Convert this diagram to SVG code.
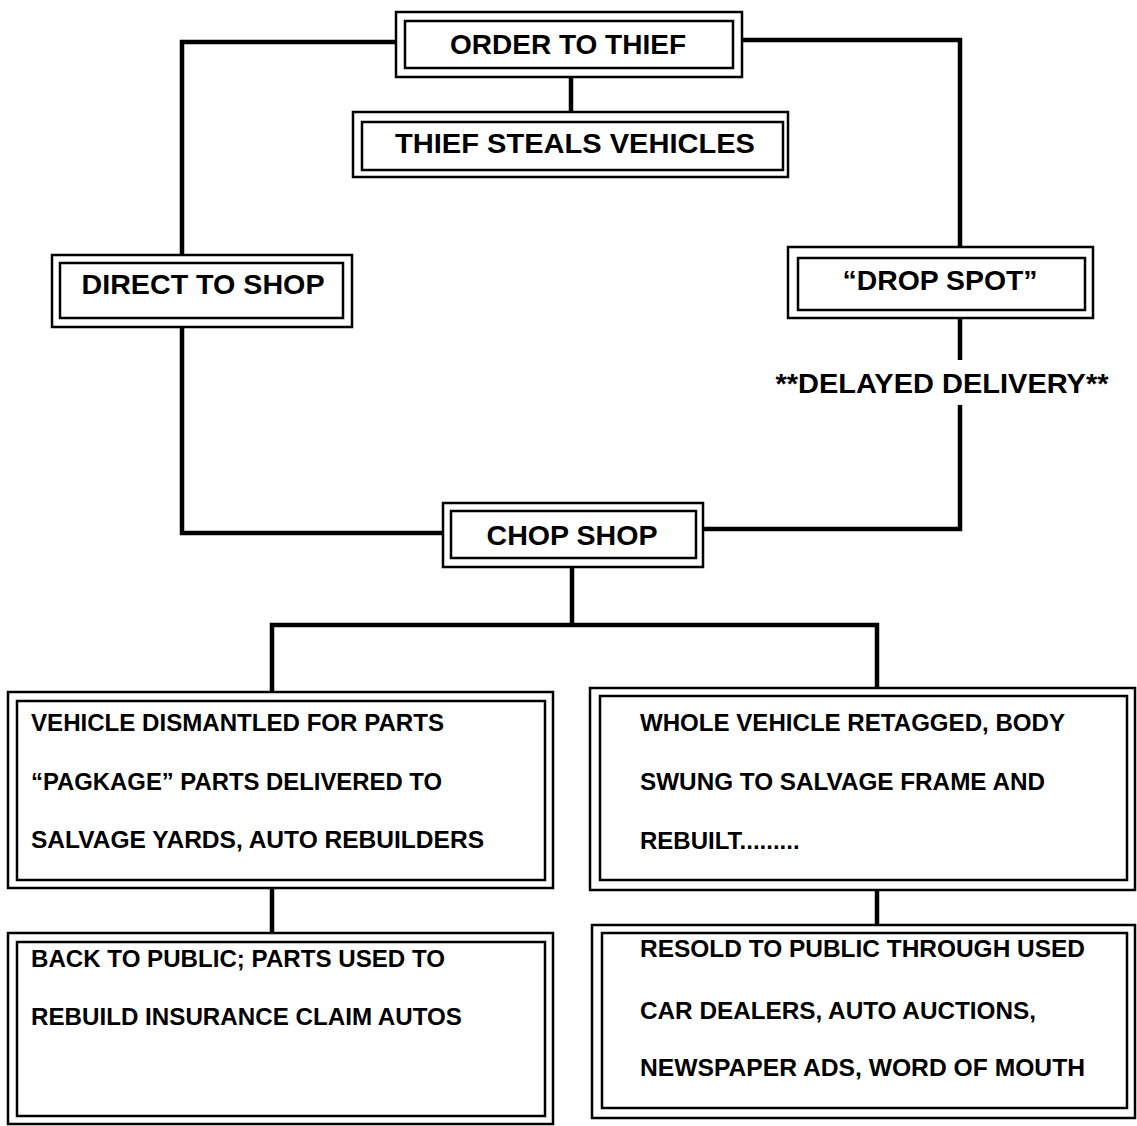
<svg xmlns="http://www.w3.org/2000/svg" width="1137" height="1126" viewBox="0 0 1137 1126">
<style>
.o{fill:none;stroke:#000;stroke-width:2.5}
.i{fill:#fff;stroke:#000;stroke-width:2.5}
.c{fill:none;stroke:#000;stroke-width:4.5;stroke-linejoin:miter}
.t{font-family:"Liberation Sans",Arial,sans-serif;font-weight:bold;fill:#000}
.h{font-size:28px;text-anchor:middle}
.b{font-size:24px}
</style>
<rect width="1137" height="1126" fill="#fff"/>
<g id="connectors">
<path class="c" d="M396 42 H182 V255 M182 327 V533 H443"/>
<path class="c" d="M742 40 H960 V248 M960 318 V360 M960 405 V529 H703"/>
<path class="c" d="M571 77 V112"/>
<path class="c" d="M572 567 V625 M272 692 V625 H877 V688"/>
<path class="c" d="M272 888 V933"/>
<path class="c" d="M877 890 V925"/>
</g>
<g id="order">
<rect class="o" x="396" y="12" width="346" height="65"/>
<rect class="i" x="405" y="21" width="328" height="47"/>
<text class="t h" x="568" y="54" textLength="236" lengthAdjust="spacingAndGlyphs">ORDER TO THIEF</text>
</g>
<g id="steals">
<rect class="o" x="353" y="112" width="435" height="65"/>
<rect class="i" x="362" y="122" width="421" height="48"/>
<text class="t h" x="575" y="153" textLength="360" lengthAdjust="spacingAndGlyphs">THIEF STEALS VEHICLES</text>
</g>
<g id="direct">
<rect class="o" x="52" y="255" width="300" height="72"/>
<rect class="i" x="60" y="263" width="283" height="55"/>
<text class="t h" x="203" y="294" textLength="243" lengthAdjust="spacingAndGlyphs">DIRECT TO SHOP</text>
</g>
<g id="drop">
<rect class="o" x="788" y="247" width="305" height="71"/>
<rect class="i" x="798" y="258" width="287" height="52"/>
<text class="t h" x="940" y="290" textLength="195" lengthAdjust="spacingAndGlyphs">“DROP SPOT”</text>
</g>
<g id="delayed">
<text class="t h" x="942" y="393" textLength="333" lengthAdjust="spacingAndGlyphs">**DELAYED DELIVERY**</text>
</g>
<g id="chop">
<rect class="o" x="443" y="503" width="260" height="64"/>
<rect class="i" x="451" y="511" width="245" height="47"/>
<text class="t h" x="572" y="545" textLength="171" lengthAdjust="spacingAndGlyphs">CHOP SHOP</text>
</g>
<g id="dismantled">
<rect class="o" x="8" y="692" width="545" height="196"/>
<rect class="i" x="17" y="701" width="528" height="179"/>
<text class="t b" x="31" y="731" textLength="413" lengthAdjust="spacingAndGlyphs">VEHICLE DISMANTLED FOR PARTS</text>
<text class="t b" x="31" y="790" textLength="411" lengthAdjust="spacingAndGlyphs">“PAGKAGE” PARTS DELIVERED TO</text>
<text class="t b" x="31" y="848" textLength="453" lengthAdjust="spacingAndGlyphs">SALVAGE YARDS, AUTO REBUILDERS</text>
</g>
<g id="retagged">
<rect class="o" x="590" y="688" width="545" height="202"/>
<rect class="i" x="600" y="696" width="527" height="184"/>
<text class="t b" x="640" y="731" textLength="425" lengthAdjust="spacingAndGlyphs">WHOLE VEHICLE RETAGGED, BODY</text>
<text class="t b" x="640" y="790" textLength="405" lengthAdjust="spacingAndGlyphs">SWUNG TO SALVAGE FRAME AND</text>
<text class="t b" x="640" y="849">REBUILT.........</text>
</g>
<g id="backtopublic">
<rect class="o" x="8" y="933" width="545" height="191"/>
<rect class="i" x="17" y="942" width="528" height="174"/>
<text class="t b" x="31" y="967" textLength="414" lengthAdjust="spacingAndGlyphs">BACK TO PUBLIC; PARTS USED TO</text>
<text class="t b" x="31" y="1025" textLength="431" lengthAdjust="spacingAndGlyphs">REBUILD INSURANCE CLAIM AUTOS</text>
</g>
<g id="resold">
<rect class="o" x="592" y="925" width="543" height="193"/>
<rect class="i" x="602" y="933" width="525" height="175"/>
<text class="t b" x="640" y="957" textLength="445" lengthAdjust="spacingAndGlyphs">RESOLD TO PUBLIC THROUGH USED</text>
<text class="t b" x="640" y="1019" textLength="396" lengthAdjust="spacingAndGlyphs">CAR DEALERS, AUTO AUCTIONS,</text>
<text class="t b" x="640" y="1076" textLength="445" lengthAdjust="spacingAndGlyphs">NEWSPAPER ADS, WORD OF MOUTH</text>
</g>
</svg>
